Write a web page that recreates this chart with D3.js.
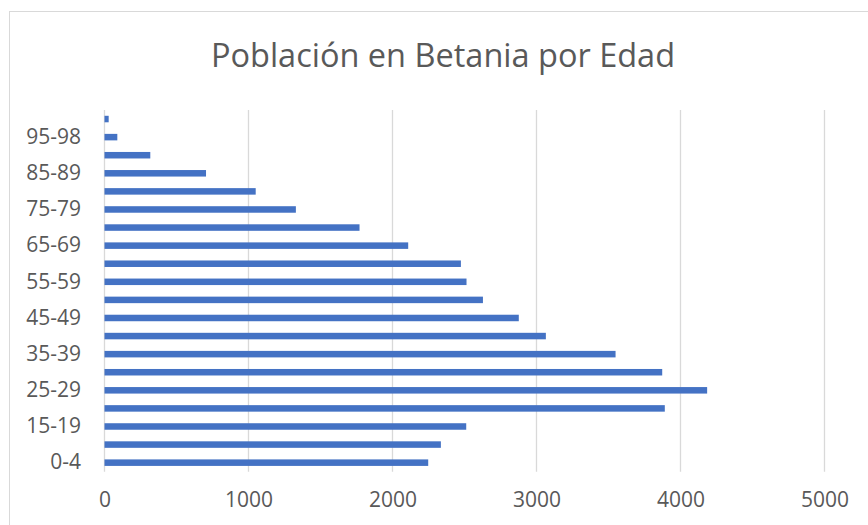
<!DOCTYPE html>
<html>
<head>
<meta charset="utf-8">
<script src="https://cdn.jsdelivr.net/npm/d3@7"></script>
<style>
  html, body { margin: 0; padding: 0; background: #fff; overflow: hidden; }
  svg { display: block; }
</style>
</head>
<body>
<svg id="chart" width="868" height="525"></svg>
<script>
const title = "Población en Betania por Edad";
const categories = ["0-4","5-14","15-19","20-24","25-29","30-34","35-39","40-44","45-49","50-54",
                    "55-59","60-64","65-69","70-74","75-79","80-84","85-89","90-94","95-98","99+"];
const values = [2248, 2336, 2512, 3891, 4185, 3873, 3549, 3065, 2877, 2628,
                2514, 2475, 2109, 1771, 1329, 1050, 705, 318, 89, 29];
const shownLabels = ["0-4","15-19","25-29","35-39","45-49","55-59","65-69","75-79","85-89","95-98"];
const xTicks = [0, 1000, 2000, 3000, 4000, 5000];

const svg = d3.select("#chart");
const font = "'Open Sans', sans-serif";
const textColor = "#595959";
const gridColor = "#d9d9d9";

// chart border
svg.append("rect")
  .attr("x", 9.5).attr("y", 11.5)
  .attr("width", 900).attr("height", 600)
  .attr("fill", "#fff")
  .attr("stroke", gridColor).attr("stroke-width", 1);

const plot = { left: 104.5, right: 824.5, top: 110, bottom: 471.7 };

const x = d3.scaleLinear().domain([0, 5000]).range([plot.left, plot.right]);
const y = d3.scaleBand().domain(categories).range([plot.bottom, plot.top]).paddingInner(0.64).paddingOuter(0.32);

// gridlines
svg.append("g").selectAll("line").data(xTicks).join("line")
  .attr("x1", d => x(d)).attr("x2", d => x(d))
  .attr("y1", plot.top).attr("y2", plot.bottom)
  .attr("stroke", gridColor).attr("stroke-width", 1.3);

// bars
svg.append("g").selectAll("rect").data(categories).join("rect")
  .attr("x", x(0))
  .attr("y", d => y(d))
  .attr("width", (d, i) => x(values[i]) - x(0))
  .attr("height", y.bandwidth())
  .attr("fill", "#4472C4");

// y axis
const yAxis = d3.axisLeft(y).tickValues(shownLabels).tickSize(0).tickPadding(23.5);
const gy = svg.append("g").attr("transform", `translate(${plot.left},0)`).call(yAxis);
gy.select(".domain").remove();
gy.selectAll("text")
  .attr("fill", textColor).style("font-family", font).style("font-size", "21px");

// x axis
const xAxis = d3.axisBottom(x).tickValues(xTicks).tickSize(0).tickPadding(20).tickFormat(d3.format("d"));
const gx = svg.append("g").attr("transform", `translate(0,${plot.bottom})`).call(xAxis);
gx.select(".domain").remove();
gx.selectAll("text")
  .attr("fill", textColor).style("font-family", font).style("font-size", "21px");

// title
svg.append("text")
  .attr("x", 443).attr("y", 67)
  .attr("text-anchor", "middle")
  .attr("fill", textColor)
  .style("font-family", font).style("font-size", "32.5px")
  .text(title);
</script>
</body>
</html>
